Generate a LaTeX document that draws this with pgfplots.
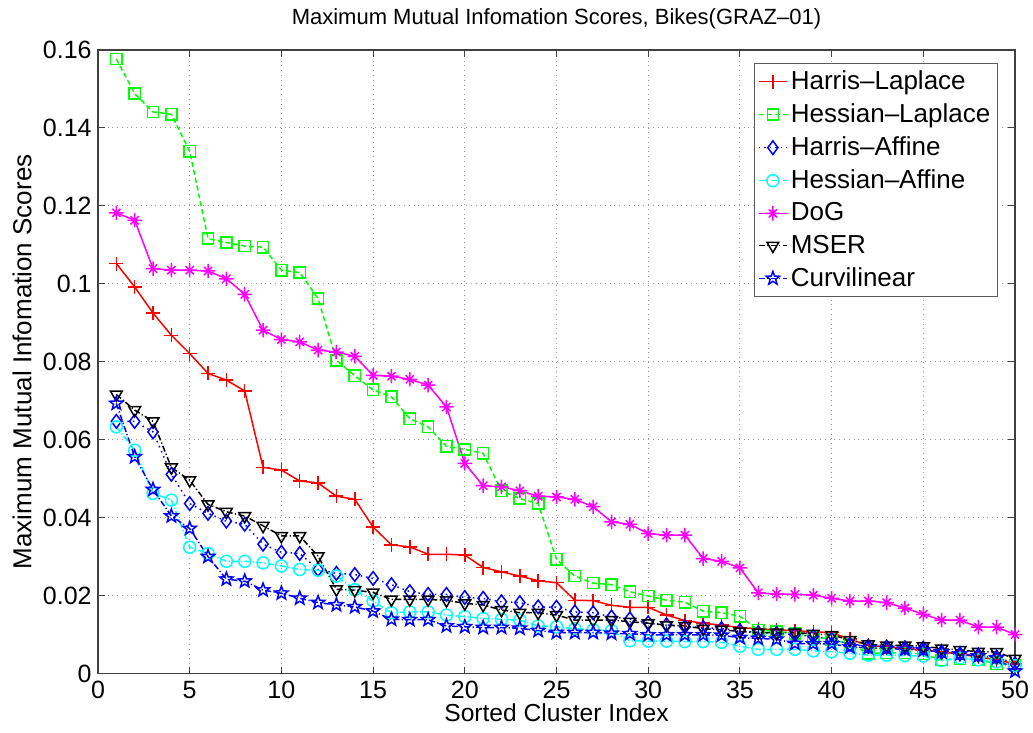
\documentclass[border=0pt]{standalone}
\usepackage{pgfplots}
\usepackage{pgfplotstable}
\pgfplotsset{compat=1.18}
\usepackage{fontspec}
\setmainfont{Liberation Sans}
\usetikzlibrary{calc}

% pure RGB line colours
\definecolor{cRed}{rgb}{1,0,0}
\definecolor{cGreen}{rgb}{0,1,0}
\definecolor{cBlue}{rgb}{0,0,1}
\definecolor{cCyan}{rgb}{0,1,1}
\definecolor{cMagenta}{rgb}{1,0,1}
\definecolor{cBlack}{rgb}{0,0,0}

% eight-armed asterisk and outlined pentagram markers
\pgfdeclareplotmark{ast8}{%
  \pgfpathmoveto{\pgfqpoint{-\pgfplotmarksize}{0pt}}\pgfpathlineto{\pgfqpoint{\pgfplotmarksize}{0pt}}%
  \pgfpathmoveto{\pgfqpoint{0pt}{-\pgfplotmarksize}}\pgfpathlineto{\pgfqpoint{0pt}{\pgfplotmarksize}}%
  \pgfpathmoveto{\pgfpointpolar{45}{0.8\pgfplotmarksize}}\pgfpathlineto{\pgfpointpolar{225}{0.8\pgfplotmarksize}}%
  \pgfpathmoveto{\pgfpointpolar{135}{0.8\pgfplotmarksize}}\pgfpathlineto{\pgfpointpolar{315}{0.8\pgfplotmarksize}}%
  \pgfusepathqstroke}
\pgfdeclareplotmark{pentagram}{%
  \pgfpathmoveto{\pgfpointpolar{90}{\pgfplotmarksize}}%
  \pgfpathlineto{\pgfpointpolar{126}{0.42\pgfplotmarksize}}%
  \pgfpathlineto{\pgfpointpolar{162}{\pgfplotmarksize}}%
  \pgfpathlineto{\pgfpointpolar{198}{0.42\pgfplotmarksize}}%
  \pgfpathlineto{\pgfpointpolar{234}{\pgfplotmarksize}}%
  \pgfpathlineto{\pgfpointpolar{270}{0.42\pgfplotmarksize}}%
  \pgfpathlineto{\pgfpointpolar{306}{\pgfplotmarksize}}%
  \pgfpathlineto{\pgfpointpolar{342}{0.42\pgfplotmarksize}}%
  \pgfpathlineto{\pgfpointpolar{18}{\pgfplotmarksize}}%
  \pgfpathlineto{\pgfpointpolar{54}{0.42\pgfplotmarksize}}%
  \pgfpathclose\pgfusepathqstroke}

% sorted maximum mutual information score per cluster
\pgfplotstableread{
x  hl     hesl   ha     hesa   dog    mser   curv
1  0.1052 0.1577 0.0647 0.0633 0.1182 0.0716 0.0693
2  0.0992 0.1488 0.0647 0.0573 0.1163 0.0676 0.0556
3  0.0925 0.1441 0.0620 0.0462 0.1039 0.0647 0.0472
4  0.0868 0.1435 0.0511 0.0445 0.1035 0.0529 0.0404
5  0.0821 0.1340 0.0436 0.0324 0.1035 0.0496 0.0372
6  0.0770 0.1116 0.0411 0.0308 0.1033 0.0434 0.0300
7  0.0753 0.1106 0.0391 0.0288 0.1013 0.0415 0.0242
8  0.0725 0.1097 0.0383 0.0288 0.0973 0.0404 0.0237
9  0.0529 0.1094 0.0332 0.0284 0.0881 0.0379 0.0214
10 0.0522 0.1035 0.0311 0.0276 0.0857 0.0353 0.0206
11 0.0494 0.1029 0.0308 0.0267 0.0851 0.0353 0.0193
12 0.0489 0.0962 0.0267 0.0265 0.0830 0.0301 0.0182
13 0.0455 0.0804 0.0257 0.0250 0.0825 0.0216 0.0176
14 0.0447 0.0764 0.0254 0.0215 0.0814 0.0214 0.0171
15 0.0376 0.0728 0.0244 0.0186 0.0765 0.0208 0.0160
16 0.0330 0.0710 0.0228 0.0156 0.0763 0.0190 0.0139
17 0.0325 0.0654 0.0210 0.0158 0.0755 0.0190 0.0138
18 0.0306 0.0633 0.0203 0.0158 0.0740 0.0190 0.0138
19 0.0306 0.0583 0.0203 0.0150 0.0684 0.0188 0.0122
20 0.0304 0.0575 0.0195 0.0146 0.0539 0.0180 0.0120
21 0.0272 0.0565 0.0193 0.0141 0.0482 0.0176 0.0118
22 0.0261 0.0469 0.0184 0.0139 0.0479 0.0163 0.0118
23 0.0250 0.0449 0.0182 0.0137 0.0469 0.0156 0.0116
24 0.0238 0.0436 0.0171 0.0122 0.0455 0.0156 0.0110
25 0.0233 0.0293 0.0170 0.0120 0.0453 0.0150 0.0105
26 0.0188 0.0250 0.0158 0.0115 0.0447 0.0137 0.0105
27 0.0187 0.0232 0.0156 0.0112 0.0428 0.0137 0.0105
28 0.0175 0.0228 0.0145 0.0110 0.0389 0.0137 0.0103
29 0.0170 0.0210 0.0140 0.0084 0.0383 0.0133 0.0102
30 0.0170 0.0199 0.0130 0.0083 0.0359 0.0129 0.0099
31 0.0150 0.0188 0.0125 0.0083 0.0355 0.0124 0.0099
32 0.0136 0.0183 0.0120 0.0082 0.0355 0.0122 0.0099
33 0.0129 0.0160 0.0118 0.0082 0.0295 0.0115 0.0099
34 0.0124 0.0156 0.0115 0.0080 0.0288 0.0112 0.0098
35 0.0118 0.0147 0.0110 0.0070 0.0271 0.0108 0.0092
36 0.0115 0.0112 0.0105 0.0062 0.0207 0.0105 0.0090
37 0.0112 0.0108 0.0103 0.0062 0.0204 0.0105 0.0088
38 0.0110 0.0103 0.0100 0.0062 0.0203 0.0105 0.0077
39 0.0107 0.0095 0.0095 0.0058 0.0201 0.0102 0.0076
40 0.0105 0.0088 0.0088 0.0056 0.0193 0.0099 0.0076
41 0.0088 0.0075 0.0075 0.0052 0.0186 0.0086 0.0068
42 0.0072 0.0052 0.0070 0.0047 0.0186 0.0075 0.0066
43 0.0068 0.0053 0.0068 0.0047 0.0182 0.0072 0.0064
44 0.0065 0.0053 0.0066 0.0046 0.0168 0.0072 0.0062
45 0.0060 0.0050 0.0065 0.0045 0.0152 0.0070 0.0060
46 0.0055 0.0035 0.0055 0.0033 0.0137 0.0064 0.0055
47 0.0050 0.0038 0.0050 0.0040 0.0137 0.0060 0.0050
48 0.0042 0.0035 0.0047 0.0035 0.0119 0.0056 0.0045
49 0.0035 0.0025 0.0042 0.0030 0.0119 0.0055 0.0040
50 0.0025 0.0022 0.0025 0.0020 0.0100 0.0038 0.0006
}\scores

\begin{document}
\begin{tikzpicture}
\begin{axis}[
  name=ax,
  scale only axis,
  width=458.5bp, height=311.75bp,
  xmin=0, xmax=50, ymin=0, ymax=0.16,
  xtick={0,5,...,50},
  ytick={0,0.02,...,0.16},
  scaled y ticks=false,
  yticklabel style={/pgf/number format/fixed, /pgf/number format/precision=2},
  /pgf/number format/assume math mode=true,
  tick label style={font=\fontsize{12.5bp}{14bp}\selectfont},
  xticklabel style={inner sep=0pt, anchor=north, yshift=-3.5bp},
  yticklabel style={inner sep=0pt, anchor=east, xshift=-3bp},
  tick align=inside,
  major tick length=3.5bp,
  tick style={black!75, line width=0.5bp},
  axis line style={black!75, line width=0.6bp},
  grid=major,
  major grid style={dotted, black!40, line width=0.5bp},
  title={Maximum Mutual Infomation Scores, Bikes(GRAZ–01)},
  title style={font=\fontsize{11bp}{13bp}\selectfont, at={(axis description cs:0.5,1)}, anchor=center, yshift=9.5bp},
  xlabel={Sorted Cluster Index},
  xlabel style={font=\fontsize{12.3bp}{14bp}\selectfont, at={(axis description cs:0.5,0)}, anchor=center, yshift=-19.75bp},
  ylabel={Maximum Mutual Infomation Scores},
  ylabel style={font=\fontsize{13bp}{15bp}\selectfont, at={(axis description cs:-0.0829,0.5)}, anchor=center, rotate=0},
  legend cell align=left,
  legend style={at={(rel axis cs:1,1)}, anchor=north east, xshift=-8.5bp, yshift=-6.5bp,
    draw=black!65, fill=white, line width=0.5bp,
    font=\fontsize{13bp}{15bp}\selectfont,
    inner xsep=2bp, inner ysep=2bp, row sep=2.4bp,
    nodes={inner sep=1.6bp}},
  legend image code/.code={%
    \draw[mark repeat=2,mark phase=2] plot coordinates {(0bp,0bp) (7bp,0bp) (14bp,0bp)};},
  every axis plot/.append style={line width=0.75bp},
]
\addplot[cRed, mark=+, mark size=3.5bp] table[x=x, y=hl] {\scores};
\addlegendentry{Harris–Laplace}
\addplot[cGreen, dash pattern=on 2.5bp off 1.5bp, mark=square, mark size=2.8bp, mark options={solid}] table[x=x, y=hesl] {\scores};
\addlegendentry{Hessian–Laplace}
\addplot[cBlue, dotted, mark=diamond, mark size=3.4bp, mark options={solid}] table[x=x, y=ha] {\scores};
\addlegendentry{Harris–Affine}
\addplot[cCyan, dash pattern=on 3bp off 1.2bp on 0.6bp off 1.2bp, mark=o, mark size=3bp, mark options={solid}] table[x=x, y=hesa] {\scores};
\addlegendentry{Hessian–Affine}
\addplot[cMagenta, mark=ast8, mark size=3.6bp] table[x=x, y=dog] {\scores};
\addlegendentry{DoG}
\addplot[cBlack, dash pattern=on 3bp off 1.2bp on 0.6bp off 1.2bp, mark=triangle, mark size=3.4bp, mark options={solid, rotate=180}] table[x=x, y=mser] {\scores};
\addlegendentry{MSER}
\addplot[cBlue, dash pattern=on 3bp off 1.2bp on 0.6bp off 1.2bp, mark=pentagram, mark size=3.5bp, mark options={solid}] table[x=x, y=curv] {\scores};
\addlegendentry{Curvilinear}
\end{axis}
\pgfresetboundingbox
\useasboundingbox ($(ax.south west)+(-49bp,-29.25bp)$) rectangle ($(ax.north east)+(9bp,25bp)$);
\end{tikzpicture}
\end{document}
